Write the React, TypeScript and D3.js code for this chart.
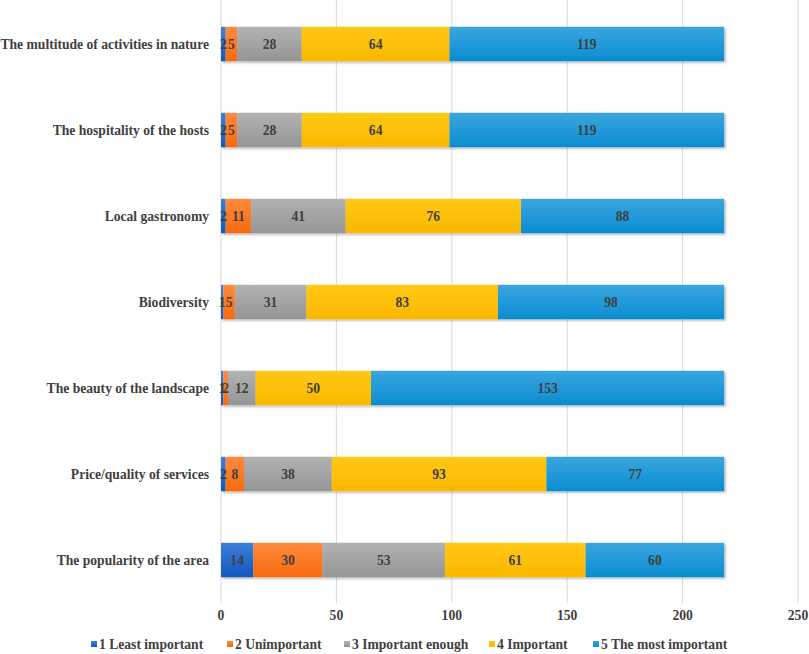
import React from "react";
import * as d3 from "d3";

const categories = [
  "The multitude of activities in nature",
  "The hospitality of the hosts",
  "Local gastronomy",
  "Biodiversity",
  "The beauty of the landscape",
  "Price/quality of services",
  "The popularity of the area",
];
const seriesNames = [
  "1 Least important",
  "2 Unimportant",
  "3 Important enough",
  "4 Important",
  "5 The most important",
];
const leastImportant = [2, 2, 2, 1, 1, 2, 14];
const unimportant = [5, 5, 11, 5, 2, 8, 30];
const importantEnough = [28, 28, 41, 31, 12, 38, 53];
const important = [64, 64, 76, 83, 50, 93, 61];
const mostImportant = [119, 119, 88, 98, 153, 77, 60];
const xTicks = [0, 50, 100, 150, 200, 250];

const colorsTop = ["#3E80DB", "#FF8A3D", "#B2B2B2", "#FFC815", "#3AA6E0"];
const colorsBottom = ["#1257BE", "#F86A0E", "#959595", "#FAB800", "#0B8CD0"];

const W = 809;
const H = 654;
const FONT = "'Liberation Serif', 'Times New Roman', serif";
const TXT = "#404040";
const FS = 13.6;

export default function App() {
  const seriesValues = [leastImportant, unimportant, importantEnough, important, mostImportant];
  const rows = categories.map((c, i) => {
    const r: any = { cat: c };
    seriesNames.forEach((s, k) => (r[s] = seriesValues[k][i]));
    return r;
  });
  const stack = d3.stack<any>().keys(seriesNames)(rows);

  const x = d3.scaleLinear().domain([0, 250]).range([221, 798]);
  const y = d3
    .scaleBand()
    .domain(categories)
    .range([1, 603])
    .paddingInner(0.6)
    .paddingOuter(0.3);
  const bw = y.bandwidth();

  const legendX = [91, 227, 344, 489, 593];

  return (
    <svg
      width={W}
      height={H}
      style={{ position: "absolute", left: 0, top: 0, background: "#fff" }}
      fontFamily={FONT}
    >
      <defs>
        {colorsTop.map((c, k) => (
          <linearGradient key={k} id={`g${k}`} x1="0" y1="0" x2="0" y2="1">
            <stop offset="0" stopColor={c} />
            <stop offset="1" stopColor={colorsBottom[k]} />
          </linearGradient>
        ))}
        <filter id="sh" x="-5%" y="-20%" width="110%" height="150%">
          <feDropShadow dx="1.5" dy="1.5" stdDeviation="1" floodColor="#000" floodOpacity="0.3" />
        </filter>
      </defs>
      {xTicks.map((t) => (
        <line
          key={t}
          x1={x(t)}
          x2={x(t)}
          y1={0}
          y2={603}
          stroke="#D9D9D9"
          strokeWidth={1}
        />
      ))}
      {xTicks.map((t) => (
        <text
          key={"t" + t}
          x={x(t)}
          y={620}
          textAnchor="middle"
          fontSize={FS}
          fontWeight="bold"
          fill={TXT}
        >
          {t}
        </text>
      ))}
      {categories.map((c) => (
        <text
          key={c}
          x={209}
          y={(y(c) as number) + bw / 2}
          dy="0.35em"
          textAnchor="end"
          fontSize={FS}
          fontWeight="bold"
          fill={TXT}
        >
          {c}
        </text>
      ))}
      {categories.map((c, i) => (
        <g key={"bar" + c} filter="url(#sh)">
          {stack.map((s, k) => (
            <rect
              key={k}
              x={x(s[i][0])}
              y={y(c)}
              width={x(s[i][1]) - x(s[i][0])}
              height={bw}
              fill={`url(#g${k})`}
            />
          ))}
        </g>
      ))}
      {categories.map((c, i) =>
        stack.map((s, k) => (
          <text
            key={c + k}
            x={(x(s[i][0]) + x(s[i][1])) / 2}
            y={(y(c) as number) + bw / 2}
            dy="0.35em"
            textAnchor="middle"
            fontSize={FS}
            fontWeight="bold"
            fill={TXT}
          >
            {s[i][1] - s[i][0]}
          </text>
        ))
      )}
      {seriesNames.map((s, k) => (
        <g key={s}>
          <rect x={legendX[k]} y={641} width={6} height={6} fill={`url(#g${k})`} />
          <text
            x={legendX[k] + 8}
            y={644}
            dy="0.35em"
            fontSize={FS}
            fontWeight="bold"
            fill={TXT}
          >
            {s}
          </text>
        </g>
      ))}
    </svg>
  );
}
